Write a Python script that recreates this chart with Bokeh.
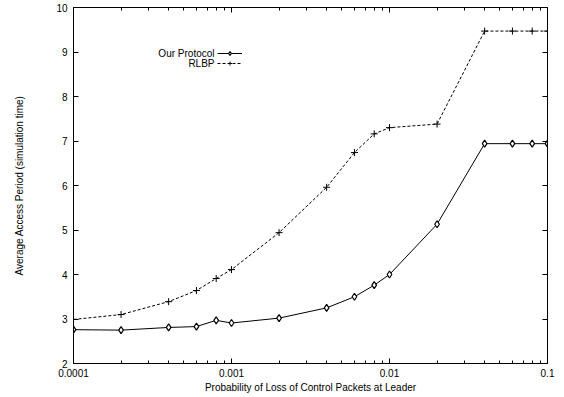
from bokeh.plotting import figure
from bokeh.models import (Range1d, LogAxis, LinearAxis, Legend, LegendItem, Label,
                          LogTicker, FixedTicker)
from bokeh.embed import file_html
from bokeh.resources import INLINE

loss_prob = [0.0001, 0.0002, 0.0004, 0.0006, 0.0008, 0.001, 0.002, 0.004, 0.006,
             0.008, 0.01, 0.02, 0.04, 0.06, 0.08, 0.1]
our_protocol = [2.76, 2.75, 2.81, 2.83, 2.97, 2.91, 3.02, 3.25, 3.50, 3.76, 4.00,
                5.13, 6.94, 6.94, 6.94, 6.94]
rlbp = [2.99, 3.10, 3.39, 3.64, 3.91, 4.11, 4.94, 5.96, 6.74, 7.16, 7.30, 7.38,
        9.47, 9.47, 9.47, 9.47]
series_names = ["Our Protocol", "RLBP"]
y_ticks = [2, 3, 4, 5, 6, 7, 8, 9, 10]
x_tick_labels = {0.0001: "0.0001", 0.001: "0.001", 0.01: "0.01", 0.1: "0.1"}

FONT = "Liberation Sans"

p = figure(width=564, height=397, x_axis_type="log", output_backend="svg",
           toolbar_location=None, x_range=Range1d(0.0001, 0.1), y_range=Range1d(2, 10),
           min_border_left=73, min_border_right=17, min_border_top=7, min_border_bottom=34)
p.background_fill_color = "white"
p.border_fill_color = "white"
p.grid.visible = False
p.outline_line_color = "black"
p.outline_line_width = 1

def style_axis(ax, labels=True):
    ax.major_tick_in = 5
    ax.major_tick_out = 0
    ax.minor_tick_in = 3
    ax.minor_tick_out = 0
    ax.axis_line_color = "black"
    ax.major_tick_line_color = "black"
    ax.minor_tick_line_color = "black"
    ax.major_label_text_font = FONT
    ax.major_label_text_font_size = "10px"
    ax.major_label_text_color = "black"
    ax.axis_label_text_font = FONT
    ax.axis_label_text_font_size = "10px"
    ax.axis_label_text_font_style = "normal"
    ax.axis_label_text_color = "black"
    if not labels:
        ax.major_label_text_alpha = 0
        ax.major_label_text_font_size = "1px"

xa = p.xaxis[0]
xa.ticker = LogTicker(desired_num_ticks=4, num_minor_ticks=10)
xa.major_label_overrides = x_tick_labels
xa.axis_label = "Probability of Loss of Control Packets at Leader"
style_axis(xa)
xa.major_label_standoff = 5
xa.axis_label_standoff = 2

ya = p.yaxis[0]
ya.ticker = FixedTicker(ticks=y_ticks)
ya.minor_tick_in = 0
ya.axis_label = "Average Access Period (simulation time)"
style_axis(ya)
ya.major_label_standoff = 6
ya.axis_label_standoff = 28

top = LogAxis(ticker=LogTicker(desired_num_ticks=4, num_minor_ticks=10))
style_axis(top, labels=False)
p.add_layout(top, "above")
right = LinearAxis(ticker=FixedTicker(ticks=y_ticks))
style_axis(right, labels=False)
right.minor_tick_in = 0
p.add_layout(right, "right")

l1 = p.line(loss_prob, our_protocol, line_color="black", line_width=1)
m1 = p.scatter(loss_prob, our_protocol, marker="diamond", size=7, fill_color="white",
               line_color="black", line_width=1.2)
l2 = p.line(loss_prob, rlbp, line_color="black", line_width=1, line_dash="3 2")
m2 = p.scatter(loss_prob, rlbp, marker="cross", size=7, line_color="black", line_width=1)

legend = Legend(items=[LegendItem(label=" ", renderers=[l1, m1]),
                       LegendItem(label=" ", renderers=[l2, m2])],
                location=(144, 295), orientation="vertical",
                glyph_width=25, glyph_height=10, label_height=10, label_width=1,
                label_standoff=0, padding=0, margin=0, spacing=0,
                border_line_alpha=0, background_fill_alpha=0,
                label_text_font_size="1px")
p.add_layout(legend, "center")

for i, name in enumerate(series_names):
    p.add_layout(Label(x=141, y=310.5 - 10 * i, x_units="screen", y_units="screen",
                       text=name, text_align="right", text_baseline="middle",
                       text_font=FONT, text_font_size="10px", text_color="black"))

open("out.html", "w").write(file_html(p, INLINE))
